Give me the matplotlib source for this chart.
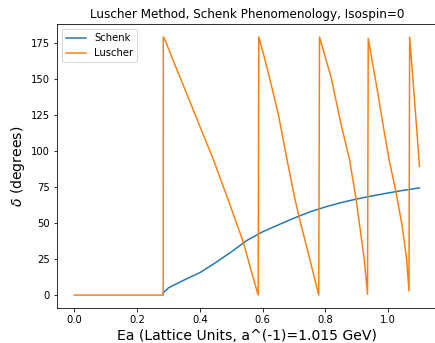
import matplotlib
matplotlib.use("Agg")
import matplotlib.pyplot as plt

# Schenk phenomenology phase shift (degrees)
schenk_x = [0.283, 0.30, 0.35, 0.40, 0.45, 0.50, 0.55, 0.60, 0.65, 0.70,
            0.75, 0.80, 0.85, 0.90, 0.95, 1.00, 1.05, 1.10]
schenk_y = [1.5, 5.0, 10.5, 15.6, 22.5, 30.0, 38.0, 44.0, 48.8, 53.5,
            57.8, 61.3, 64.3, 66.8, 69.0, 71.0, 72.9, 74.5]

# Luscher method phase shift (degrees)
luscher_x = [0.0, 0.2835,
             0.2838, 0.29, 0.307, 0.35, 0.40, 0.443, 0.50, 0.539, 0.565, 0.586,
             0.588, 0.60, 0.62, 0.65, 0.679, 0.70, 0.716, 0.75, 0.779,
             0.7815, 0.80, 0.8187, 0.85, 0.877, 0.898, 0.924, 0.9345,
             0.9367, 0.95, 0.966, 0.985, 1.003, 1.0244, 1.045, 1.059, 1.0665,
             1.0687, 1.085, 1.10]
luscher_y = [0.0, 0.0,
             179.5, 177.0, 167.5, 144.5, 117.5, 94.4, 60.5, 36.6, 16.0, 0.0,
             179.5, 170.0, 153.0, 126.0, 93.0, 70.0, 54.6, 25.5, 0.0,
             179.4, 165.4, 151.2, 118.8, 94.4, 66.7, 25.0, 0.5,
             178.5, 162.0, 142.0, 117.0, 94.4, 72.4, 48.1, 25.0, 3.0,
             179.4, 133.5, 89.5]

fig = plt.figure(figsize=(435 / 72, 343 / 72), dpi=72)
ax = fig.add_axes([0.131, 0.102, 0.873, 0.828])

ax.plot(schenk_x, schenk_y, label="Schenk")
ax.plot(luscher_x, luscher_y, label="Luscher")

ax.set_title("Luscher Method, Schenk Phenomenology, Isospin=0", fontsize=12)
ax.set_xlabel("Ea (Lattice Units, a^(-1)=1.015 GeV)", fontsize=14)
ax.set_ylabel(r"$\delta$ (degrees)", fontsize=14)
ax.legend(loc="upper left")

fig.savefig("out.png", dpi=72)
